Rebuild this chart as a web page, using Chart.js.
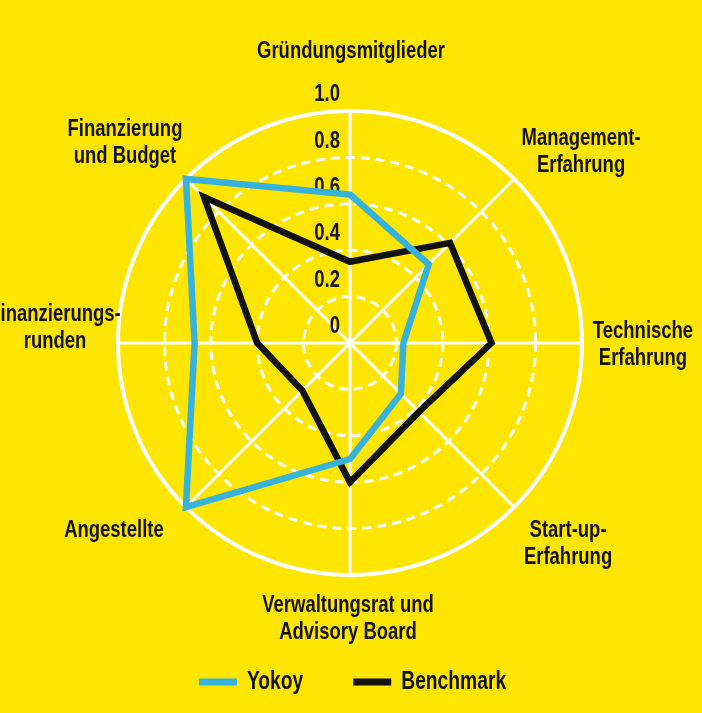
<!DOCTYPE html>
<html>
<head>
<meta charset="utf-8">
<script src="https://cdn.jsdelivr.net/npm/chart.js@4.4.1/dist/chart.umd.min.js"></script>
<style>
  html, body { margin: 0; padding: 0; background: #FFE600; }
  #wrap { width: 702px; height: 713px; position: relative; }
</style>
</head>
<body>
<div id="wrap"><canvas id="c"></canvas></div>
<script>
// Radar: Yokoy vs Benchmark, 8 dimensions, scale 0..1

const AXES = [
  ['Gründungsmitglieder'],
  ['Management-', 'Erfahrung'],
  ['Technische', 'Erfahrung'],
  ['Start-up-', 'Erfahrung'],
  ['Verwaltungsrat und', 'Advisory Board'],
  ['Angestellte'],
  ['Finanzierungs-', 'runden'],
  ['Finanzierung', 'und Budget'],
];
const YOKOY     = [0.64, 0.48, 0.23, 0.31, 0.50, 1.00, 0.67, 1.00];
const BENCHMARK = [0.35, 0.61, 0.61, 0.42, 0.60, 0.29, 0.40, 0.89];
const TICK_VALUES = [0, 0.2, 0.4, 0.6, 0.8, 1.0];
const TICK_LABELS = ['0', '0.2', '0.4', '0.6', '0.8', '1.0'];

const CYAN = '#37B2DC';
const INK  = '#111111';
const FONT = "'Liberation Sans Narrow', 'Arial Narrow', 'Liberation Sans', sans-serif";
const SQUEEZE = 0.77;   // the print font is far more condensed than anything installed

// block-centre offset of each axis label from its outer-ring point
const LABEL_OFFSET = [[1, -60], [67, -27], [61, 2], [54, 37], [-2, 44], [-72, 23], [-63, -15], [-61, -36]];
const LINE_H = 27;

function squeezedText(ctx, text, x, y, align) {
  ctx.save();
  ctx.translate(x, y);
  ctx.scale(SQUEEZE, 1);
  ctx.textAlign = align;
  ctx.fillText(text, 0, 0);
  ctx.restore();
}

const decorations = {
  id: 'decorations',
  beforeDatasetsDraw(chart) {
    // tick values sit left of the vertical axis, a bit above their ring
    const r = chart.scales.r, ctx = chart.ctx;
    ctx.save();
    ctx.fillStyle = INK;
    ctx.font = 'bold 24px ' + FONT;
    ctx.textBaseline = 'middle';
    TICK_VALUES.forEach((v, i) => {
      const y = r.yCenter - r.getDistanceFromCenterForValue(v) - 16.5;
      squeezedText(ctx, TICK_LABELS[i], r.xCenter - 10, y, 'right');
    });
    ctx.restore();
  },
  afterDraw(chart) {
    const r = chart.scales.r, ctx = chart.ctx;
    ctx.save();
    ctx.fillStyle = INK;
    ctx.textBaseline = 'middle';
    ctx.font = 'bold 24px ' + FONT;
    AXES.forEach((lines, i) => {
      const p = r.getPointPosition(i, r.drawingArea);
      const cx = p.x + LABEL_OFFSET[i][0];
      const cy = p.y + LABEL_OFFSET[i][1];
      const top = cy - (lines.length - 1) * LINE_H / 2;
      lines.forEach((t, k) => squeezedText(ctx, t, cx, top + k * LINE_H, 'center'));
    });

    // legend
    ctx.font = 'bold 25px ' + FONT;
    const sample = 38, gapText = 10, gapItem = 50, ly = 682;
    const items = chart.data.datasets.map(ds => ({
      label: ds.label, color: ds.borderColor,
      w: ctx.measureText(ds.label).width * SQUEEZE,
    }));
    const total = items.reduce((s, it) => s + sample + gapText + it.w, 0) + gapItem * (items.length - 1);
    let x = 352.5 - total / 2;
    items.forEach(it => {
      ctx.fillStyle = it.color;
      ctx.fillRect(x, ly - 3.5, sample, 7);
      x += sample + gapText;
      ctx.fillStyle = INK;
      squeezedText(ctx, it.label, x, ly, 'left');
      x += it.w + gapItem;
    });
    ctx.restore();
  }
};

new Chart(document.getElementById('c'), {
  type: 'radar',
  data: {
    labels: AXES,
    datasets: [
      { label: 'Yokoy', data: YOKOY, borderColor: CYAN, borderWidth: 6.5 },
      { label: 'Benchmark', data: BENCHMARK, borderColor: INK, borderWidth: 6.5 },
    ].map(ds => Object.assign(ds, {
      fill: false, tension: 0, pointRadius: 0, pointHoverRadius: 0,
      borderJoinStyle: 'miter', backgroundColor: 'transparent',
    })),
  },
  options: {
    responsive: true, maintainAspectRatio: false, animation: false,
    layout: { padding: { left: 118, right: 120, top: 111, bottom: 138 } },
    scales: {
      r: {
        min: 0, max: 1,
        ticks: { display: false, stepSize: 0.2 },
        pointLabels: { display: false },
        grid: {
          circular: true, color: '#ffffff',
          lineWidth: c => c.index === TICK_VALUES.length - 1 ? 4 : 3,
        },
        border: { dash: c => c.index === TICK_VALUES.length - 1 ? [] : [9, 6] },
        angleLines: { color: '#ffffff', lineWidth: 3 },
      }
    },
    plugins: { legend: { display: false }, tooltip: { enabled: false } },
  },
  plugins: [decorations],
});
</script>
</body>
</html>
